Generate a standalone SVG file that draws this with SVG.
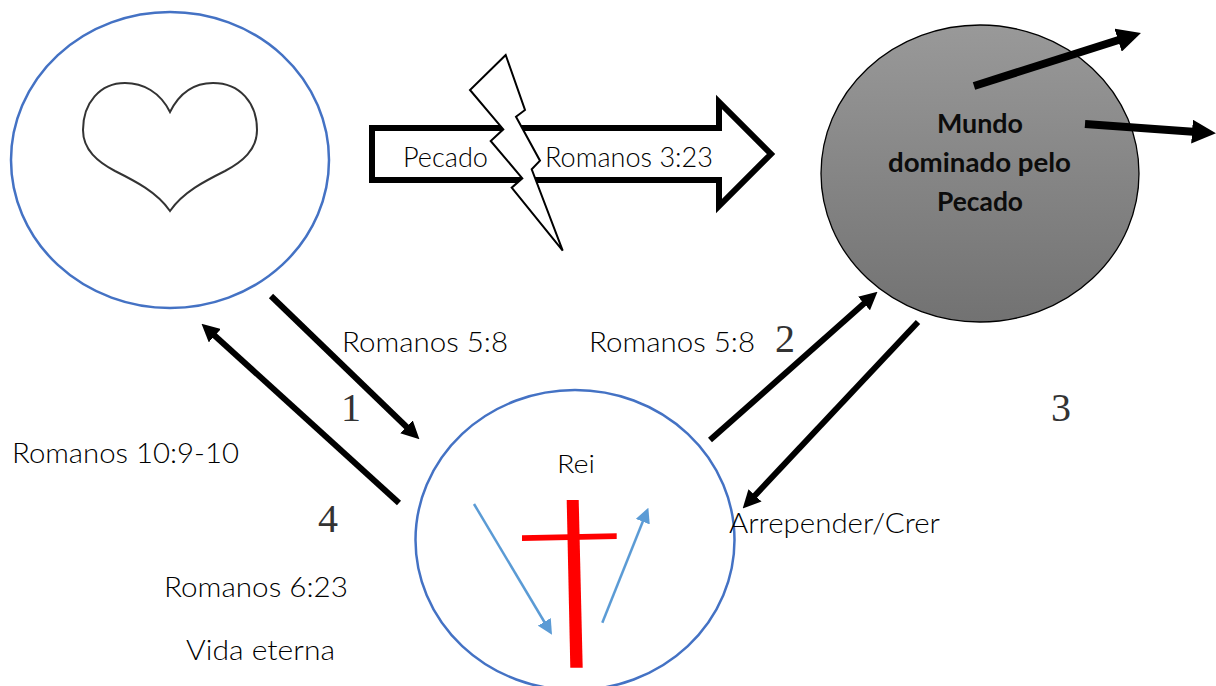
<svg xmlns="http://www.w3.org/2000/svg" width="1216" height="686" viewBox="0 0 1216 686">
<style>
text{font-family:"Lato","Open Sans","Liberation Sans",sans-serif;font-size:27px;font-weight:300;fill:#000}
.num{font-family:"Liberation Serif","DejaVu Serif",serif;font-size:40px;font-weight:400;fill:#333}
.ring{fill:#fff;stroke:#4472c4;stroke-width:2.5}
text.b{font-weight:700;fill:#0c0c0c}
.k5{fill:none;stroke:#000;stroke-width:6;marker-end:url(#ah)}
.k8{fill:none;stroke:#000;stroke-width:8;marker-end:url(#ah)}
.bl{fill:none;stroke:#5b9bd5;stroke-width:2.5;marker-end:url(#ahb)}
</style>
<defs>
<linearGradient id="g" x1="0" y1="0" x2="0" y2="1"><stop offset="0" stop-color="#999"/><stop offset="1" stop-color="#727272"/></linearGradient>
<marker id="ah" viewBox="0 0 3 3" refX="1" refY="1.5" markerWidth="3" markerHeight="3" orient="auto" markerUnits="strokeWidth"><path d="M0,0L3,1.5L0,3Z" fill="#000"/></marker>
<marker id="ahb" viewBox="0 0 6 6" refX="1" refY="3" markerWidth="6" markerHeight="6" orient="auto" markerUnits="strokeWidth"><path d="M0,0L6,3L0,6Z" fill="#5b9bd5"/></marker>
</defs>
<rect width="1216" height="686" fill="#fff"/>
<g id="node-heart">
<ellipse class="ring" cx="170" cy="160" rx="159" ry="148"/>
<path d="M170,112C160,92 143,83 125,83C100,83 83,103 83,130C83,150 98,162 115,171C135,181 157,192 170,211C183,192 205,181 225,171C242,162 257,150 257,130C257,103 240,83 213,83C195,83 180,92 170,112Z" fill="#fff" stroke="#333" stroke-width="2"/>
</g>
<g id="node-mundo">
<ellipse cx="980" cy="173.500" rx="159" ry="148.500" fill="url(#g)" stroke="#000" stroke-width="1.300"/>
<text class="b" x="937" y="133" textLength="86" lengthAdjust="spacingAndGlyphs">Mundo</text>
<text class="b" x="888" y="172" textLength="183" lengthAdjust="spacingAndGlyphs">dominado pelo</text>
<text class="b" x="937" y="211" textLength="86" lengthAdjust="spacingAndGlyphs">Pecado</text>
</g>
<g id="node-rei">
<ellipse class="ring" cx="575" cy="540" rx="159.500" ry="150"/>
<text x="557" y="473" textLength="38" lengthAdjust="spacingAndGlyphs" style="font-size:25px">Rei</text>
<path d="M566.700,500H578.700L582.700,667.700H570.300Z" fill="#f00"/>
<path d="M522,535.300L616.700,533.300V539L522,541Z" fill="#f00"/>
<path class="bl" d="M474,504L545.600,624"/>
<path class="bl" d="M602.300,622.700L643.700,519.300"/>
</g>
<g id="node-pecado">
<path d="M372,128H719V102L771,154L719,206V180H372Z" fill="#fff" stroke="#000" stroke-width="6"/>
<text x="403" y="167" textLength="85" lengthAdjust="spacingAndGlyphs">Pecado</text>
<text x="545" y="167" textLength="168" lengthAdjust="spacingAndGlyphs">Romanos 3:23</text>
<path d="M505.700,55L470,90L503.300,129.300L490.700,141L522.300,178.300L511.700,187.700L562.700,250.700L531.700,169.300L540,160.700L516,116.700L525,110Z" fill="#fff" stroke="#000" stroke-width="2"/>
</g>
<g id="connectors">
<path class="k5" d="M271,296L410.800,431"/>
<path class="k5" d="M399,503L210.400,331.700"/>
<path class="k5" d="M710,440L868.500,299.600"/>
<path class="k5" d="M918,322L750.900,499.700"/>
<path class="k8" d="M974,86L1125.700,37.800"/>
<path class="k8" d="M1085,124L1200,132.200"/>
</g>
<g id="labels">
<text x="342" y="352" textLength="166" lengthAdjust="spacingAndGlyphs">Romanos 5:8</text>
<text x="589" y="352" textLength="166" lengthAdjust="spacingAndGlyphs">Romanos 5:8</text>
<text x="12" y="463" textLength="227" lengthAdjust="spacingAndGlyphs">Romanos 10:9-10</text>
<text x="164" y="597" textLength="184" lengthAdjust="spacingAndGlyphs">Romanos 6:23</text>
<text x="186" y="660" textLength="149" lengthAdjust="spacingAndGlyphs">Vida eterna</text>
<text x="729" y="533" textLength="211" lengthAdjust="spacingAndGlyphs">Arrepender/Crer</text>
<text class="num" x="341" y="421">1</text>
<text class="num" x="775" y="352">2</text>
<text class="num" x="1051" y="421">3</text>
<text class="num" x="318" y="532">4</text>
</g>
</svg>
